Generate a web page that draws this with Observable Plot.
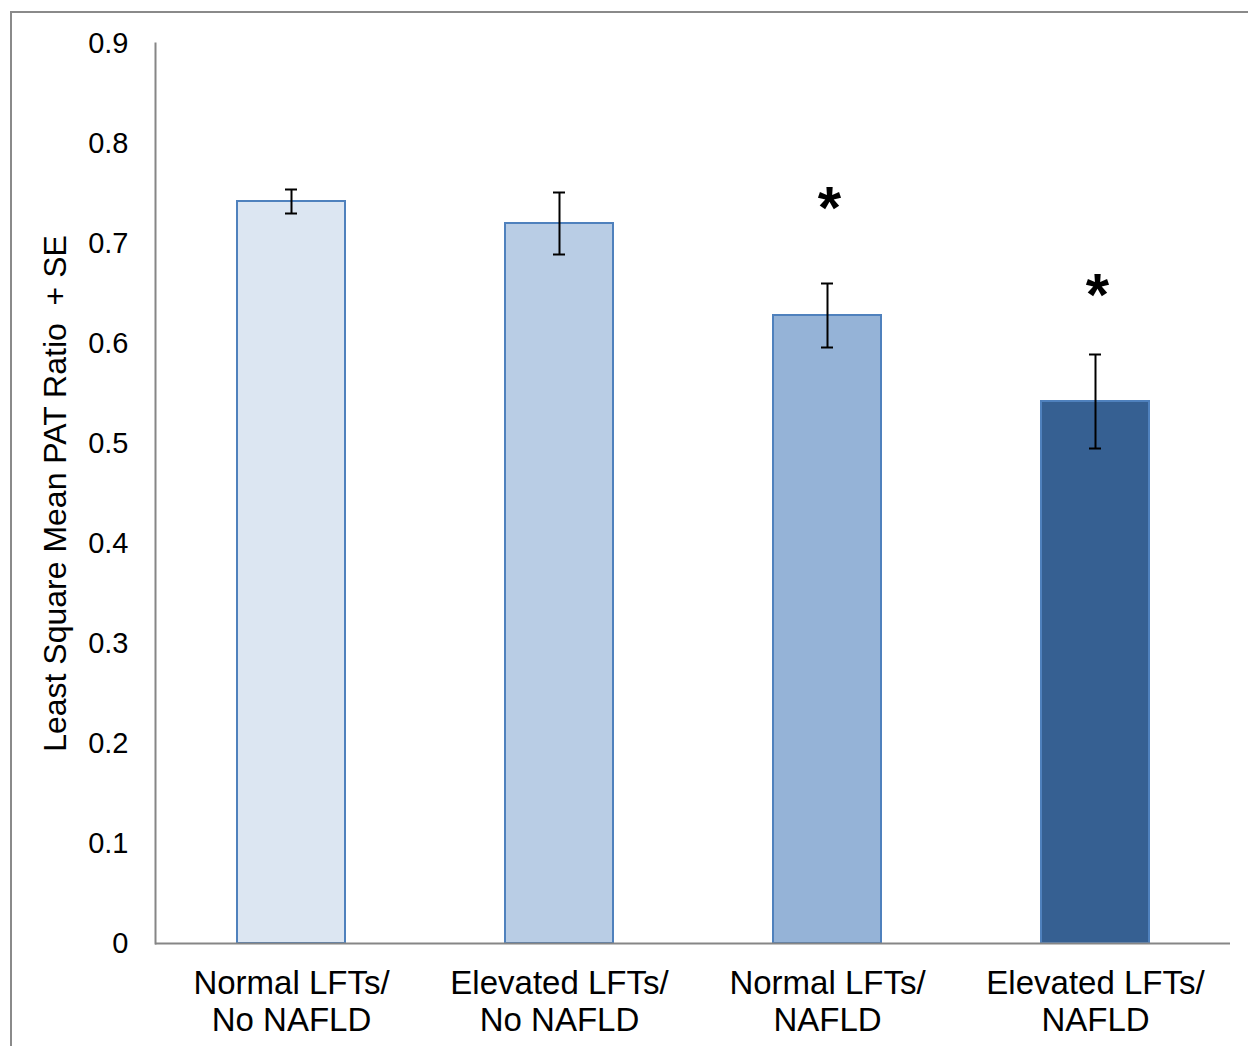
<!DOCTYPE html>
<html>
<head>
<meta charset="utf-8">
<script src="https://cdn.jsdelivr.net/npm/d3@7"></script>
<script src="https://cdn.jsdelivr.net/npm/@observablehq/plot@0.6"></script>
<style>
  html, body { margin: 0; padding: 0; background: #fff; overflow: hidden; }
  #wrap { position: relative; width: 1248px; height: 1046px; overflow: hidden; }
  #border { position: absolute; left: 10px; top: 11px; width: 3000px; height: 3000px;
            border: 2px solid #8a8a8a; box-sizing: border-box; pointer-events: none; }
</style>
</head>
<body>
<div id="wrap"><div id="border"></div></div>
<script>
const groups = ["Normal LFTs/\nNo NAFLD", "Elevated LFTs/\nNo NAFLD", "Normal LFTs/\nNAFLD", "Elevated LFTs/\nNAFLD"];
const means = [0.742, 0.720, 0.628, 0.542];
const errors = [0.012, 0.031, 0.032, 0.047];
const fills = ["#dce6f2", "#b9cde5", "#95b3d7", "#366092"];
const stars = ["", "", "*", "*"];
const starY = [null, null, 0.735, 0.648];
const yTicks = [0, 0.1, 0.2, 0.3, 0.4, 0.5, 0.6, 0.7, 0.8, 0.9];
const yTitle = "Least Square Mean PAT Ratio  + SE";

const data = groups.map((g, i) => ({
  group: g, mean: means[i], se: errors[i], fill: fills[i], star: stars[i], starY: starY[i]
}));

const font = "'Liberation Sans', Arial, sans-serif";

const plot = Plot.plot({
  width: 1248,
  height: 1046,
  marginLeft: 155,
  marginRight: 18,
  marginTop: 43,
  marginBottom: 103,
  style: { fontFamily: font, background: "transparent", color: "#000" },
  x: { domain: groups, paddingInner: 0.598, paddingOuter: 0.299, align: 0.5, label: null },
  y: { domain: [0, 0.9], label: null },
  marks: [
    Plot.barY(data, { x: "group", y: "mean", fill: "fill", stroke: "#4f81bd", strokeWidth: 2 }),
    Plot.ruleX(data, { x: "group", y1: d => d.mean - d.se, y2: d => d.mean + d.se, stroke: "#000", strokeWidth: 2 }),
    Plot.tickY(data, { x: "group", y: d => d.mean + d.se, stroke: "#000", strokeWidth: 2, insetLeft: 48, insetRight: 48 }),
    Plot.tickY(data, { x: "group", y: d => d.mean - d.se, stroke: "#000", strokeWidth: 2, insetLeft: 48, insetRight: 48 }),
    Plot.text(data.filter(d => d.star), { x: "group", y: "starY", text: "star", fontSize: 60, fontWeight: "bold", fill: "#000", lineAnchor: "middle", dx: 2 }),
    Plot.ruleY([0], { stroke: "#868686", strokeWidth: 2 }),
    Plot.frame({ anchor: "left", stroke: "#868686", strokeWidth: 2 }),
    Plot.axisY({ ticks: yTicks, tickFormat: d => d === 0 ? "0" : d3.format(".1f")(d), tickSize: 0, tickPadding: 27, fontSize: 29, label: null }),
    Plot.axisY({ ticks: [], tickSize: 0, label: yTitle, labelAnchor: "center", labelArrow: "none", labelOffset: 112, fontSize: 32 }),
    Plot.axisX({ tickSize: 0, tickPadding: 24, fontSize: 33, lineHeight: 1.13, label: null })
  ]
});

document.getElementById("wrap").insertBefore(plot, document.getElementById("border"));
</script>
</body>
</html>
